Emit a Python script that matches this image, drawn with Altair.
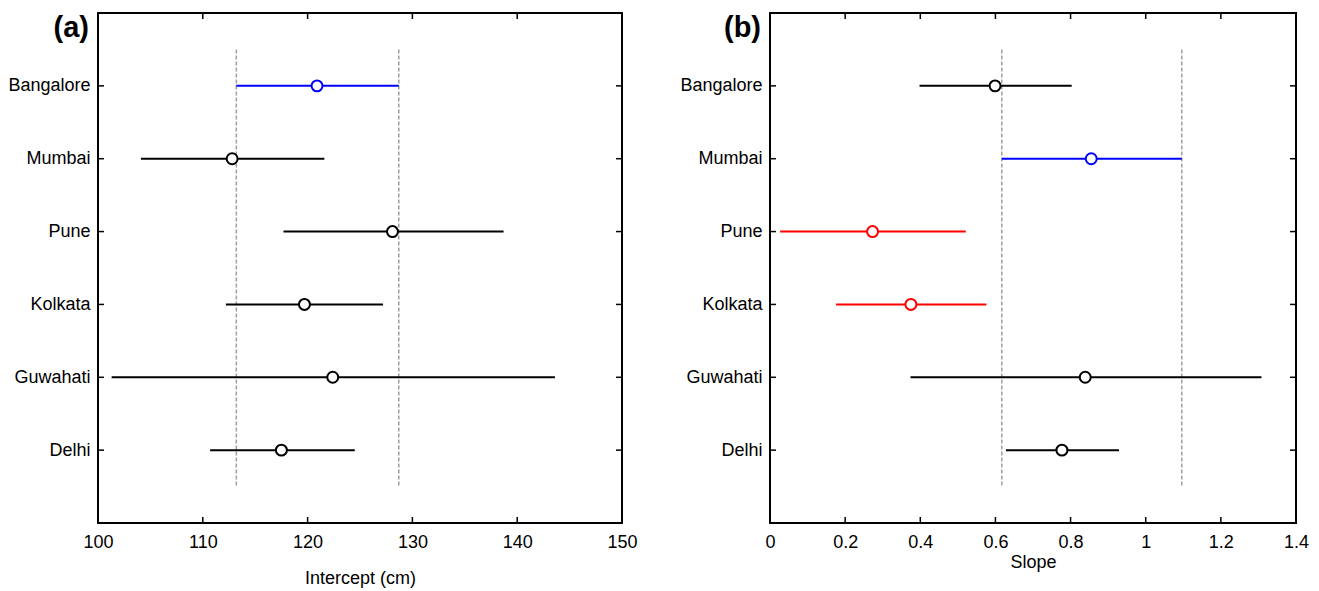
import json
import altair as alt
import pandas as pd

# ---------------- data ----------------
cities = ["Bangalore", "Mumbai", "Pune", "Kolkata", "Guwahati", "Delhi"]
pos = [1, 2, 3, 4, 5, 6]

int_est = [120.9, 112.8, 128.1, 119.7, 122.4, 117.5]
int_lo = [113.2, 104.1, 117.7, 112.2, 101.3, 110.7]
int_hi = [128.7, 121.6, 138.7, 127.2, 143.6, 124.5]
int_col = ["#0000ff", "black", "black", "black", "black", "black"]
int_ref = [113.2, 128.7]
int_ticks = [100, 110, 120, 130, 140, 150]

slope_est = [0.599, 0.855, 0.273, 0.375, 0.839, 0.777]
slope_lo = [0.398, 0.617, 0.027, 0.176, 0.374, 0.628]
slope_hi = [0.803, 1.096, 0.521, 0.576, 1.308, 0.929]
slope_col = ["black", "#0000ff", "#ff0000", "#ff0000", "black", "black"]
slope_ref = [0.617, 1.096]
slope_ticks = [0, 0.2, 0.4, 0.6, 0.8, 1, 1.2, 1.4]

FONT = "Liberation Sans"
H = 510
TICK = 6


def panel(est, lo, hi, col, ref, ticks, fmt, domain, title, tag, W, title_pad):
    df = pd.DataFrame({"city": cities, "pos": pos, "est": est,
                       "lo": lo, "hi": hi, "col": col})
    xs = alt.Scale(domain=domain, nice=False, zero=False)
    ys = alt.Scale(domain=[0, 7], reverse=True, nice=False, zero=False)
    label_expr = json.dumps([""] + cities) + "[datum.value]"
    xax = alt.Axis(values=ticks, format=fmt, title=title, ticks=False,
                   tickSize=0, domain=False, grid=False, labelPadding=10,
                   labelFlush=False,
                   titlePadding=title_pad, labelFontSize=18, titleFontSize=18)
    yax = alt.Axis(values=pos, labelExpr=label_expr, title=None, ticks=False,
                   tickSize=0, domain=False, grid=False, labelPadding=8,
                   labelFontSize=18, minExtent=90, maxExtent=90)

    ref_layer = alt.Chart(pd.DataFrame({"ref": ref})).mark_rule(
        color="#a0a0a0", strokeWidth=1.5, strokeDash=[4, 2]
    ).encode(
        x=alt.X("ref:Q", scale=xs, axis=xax),
        y=alt.YDatum(0.5, scale=ys, axis=yax),
        y2=alt.datum(6.5),
    )

    bars = alt.Chart(df).mark_rule(strokeWidth=2).encode(
        x=alt.X("lo:Q", scale=xs, axis=xax),
        x2="hi:Q",
        y=alt.Y("pos:Q", scale=ys, axis=yax),
        color=alt.Color("col:N", scale=None),
    )

    pts = alt.Chart(df).mark_point(
        shape="circle", filled=False, size=120, strokeWidth=2, opacity=1
    ).encode(
        x=alt.X("est:Q", scale=xs, axis=xax),
        y=alt.Y("pos:Q", scale=ys, axis=yax),
        color=alt.Color("col:N", scale=None),
        fill=alt.value("white"),
    )

    tdf = pd.DataFrame({"t": ticks})
    tick_b = alt.Chart(tdf).mark_rule(color="black", strokeWidth=1.5).encode(
        x=alt.X("t:Q", scale=xs, axis=xax),
        y=alt.value(H), y2=alt.value(H - TICK),
    )
    tick_t = alt.Chart(tdf).mark_rule(color="black", strokeWidth=1.5).encode(
        x=alt.X("t:Q", scale=xs, axis=xax),
        y=alt.value(0), y2=alt.value(TICK),
    )
    tick_l = alt.Chart(df).mark_rule(color="black", strokeWidth=1.5).encode(
        y=alt.Y("pos:Q", scale=ys, axis=yax),
        x=alt.value(0), x2=alt.value(TICK),
    )
    tick_r = alt.Chart(df).mark_rule(color="black", strokeWidth=1.5).encode(
        y=alt.Y("pos:Q", scale=ys, axis=yax),
        x=alt.value(W - TICK), x2=alt.value(W),
    )

    tag_layer = alt.Chart(pd.DataFrame({"tag": [tag]})).mark_text(
        align="right", baseline="middle", fontSize=29, fontWeight="bold",
        font=FONT, color="black"
    ).encode(x=alt.value(-9), y=alt.value(15), text="tag:N")

    return alt.layer(ref_layer, bars, pts, tick_b, tick_t, tick_l, tick_r,
                     tag_layer).properties(width=W, height=H)


pa = panel(int_est, int_lo, int_hi, int_col, int_ref, int_ticks, "d",
           [100, 150], "Intercept (cm)", "(a)", 524, 18)
pb = panel(slope_est, slope_lo, slope_hi, slope_col, slope_ref, slope_ticks,
           "~g", [0, 1.4], "Slope", "(b)", 526, 2)

chart = alt.hconcat(pa, pb, spacing=39).configure_view(
    stroke="black", strokeWidth=2
).configure_axis(
    labelFont=FONT, titleFont=FONT, labelColor="black", titleColor="black",
    titleFontWeight="normal"
).properties(
    padding={"left": -2, "top": 3, "right": 0, "bottom": 0},
    background="white",
)

chart.save("out.html", embed_options={"renderer": "svg", "actions": False})
